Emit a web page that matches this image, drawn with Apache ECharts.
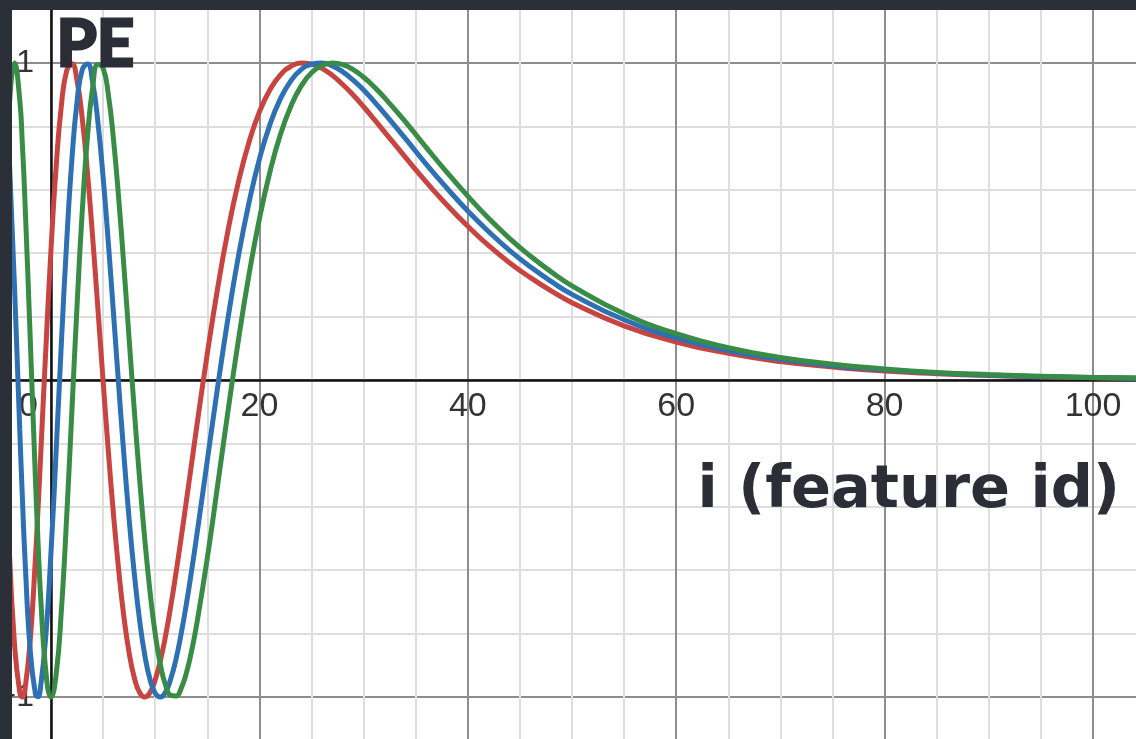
<!DOCTYPE html>
<html>
<head>
<meta charset="utf-8">
<title>PE vs feature id</title>
<script src="https://cdn.jsdelivr.net/npm/echarts@6/dist/echarts.min.js"></script>
<style>
  html, body { margin: 0; padding: 0; width: 1136px; height: 739px; background: #2b2f37; overflow: hidden; }
  #chart { position: absolute; left: 12px; top: 10px; width: 1124px; height: 729px; background: #ffffff; }
</style>
</head>
<body>
<div id="chart"></div>
<script>
// feature index i (shared by all three curves)
const iValues = [
    -4, -3.5, -3, -2.75, -2.5, -2, -1.5, -1.25, -1, -0.5, 0, 0.5, 1, 1.5, 2, 2.5, 3, 3.5, 4, 4.5, 5, 5.5, 6,
    6.5, 7, 7.5, 8, 8.5, 9, 9.5, 10, 10.5, 11, 11.5, 12, 12.5, 13, 13.5, 14,
    15, 16, 17, 18, 19, 20, 21, 22, 23, 24, 25, 26, 27, 28, 29, 30, 31, 32,
    34, 36, 38, 40, 42, 44, 46, 48, 50,
    55, 60, 65, 70, 75, 80, 85, 90, 95, 100, 105
];

// PE value
const peRed = [
    -0.535, -0.835, -0.985, -1.000, -0.976, -0.825, -0.565, -0.410, -0.244, 0.095, 0.412, 0.676, 0.867, 0.975, 0.998, 0.944, 0.825, 0.654, 0.449, 0.225, -0.003, -0.223, -0.425,
    -0.601, -0.748, -0.861, -0.940, -0.986, -1.000, -0.986, -0.946, -0.885, -0.806, -0.712, -0.608, -0.496, -0.380, -0.262, -0.144,
    0.083, 0.291, 0.474, 0.627, 0.750, 0.846, 0.915, 0.962, 0.989, 1.000, 0.997, 0.983, 0.961, 0.932, 0.899, 0.862, 0.823, 0.783,
    0.703, 0.625, 0.552, 0.485, 0.424, 0.370, 0.323, 0.281, 0.244,
    0.171, 0.120, 0.084, 0.058, 0.041, 0.028, 0.020, 0.014, 0.010, 0.007, 0.005
];
const peBlue = [
    0.696, 0.293, -0.156, -0.369, -0.561, -0.851, -0.990, -0.999, -0.969, -0.808, -0.544, -0.220, 0.119, 0.433, 0.693, 0.878, 0.979, 0.997, 0.938, 0.814, 0.640, 0.434, 0.209,
    -0.019, -0.238, -0.439, -0.613, -0.757, -0.868, -0.944, -0.988, -1.000, -0.984, -0.942, -0.880, -0.799, -0.705, -0.600, -0.488,
    -0.254, -0.021, 0.198, 0.393, 0.559, 0.697, 0.805, 0.886, 0.943, 0.979, 0.996, 1.000, 0.991, 0.972, 0.946, 0.915, 0.879, 0.841,
    0.762, 0.681, 0.605, 0.533, 0.468, 0.409, 0.357, 0.311, 0.270,
    0.190, 0.133, 0.093, 0.065, 0.045, 0.032, 0.022, 0.015, 0.011, 0.008, 0.005
];
const peGreen = [
    0.862, 1.000, 0.884, 0.745, 0.566, 0.136, -0.308, -0.507, -0.679, -0.918, -1.000, -0.927, -0.725, -0.435, -0.101, 0.234, 0.532, 0.767, 0.923, 0.995, 0.984, 0.901, 0.758,
    0.571, 0.356, 0.129, -0.098, -0.311, -0.503, -0.667, -0.800, -0.898, -0.963, -0.995, -0.997, -0.972, -0.923, -0.853, -0.768,
    -0.562, -0.330, -0.095, 0.129, 0.332, 0.508, 0.655, 0.773, 0.862, 0.927, 0.969, 0.992, 1.000, 0.995, 0.979, 0.955, 0.925, 0.891,
    0.815, 0.734, 0.655, 0.580, 0.510, 0.447, 0.391, 0.341, 0.297,
    0.209, 0.146, 0.102, 0.071, 0.050, 0.035, 0.024, 0.017, 0.012, 0.008, 0.006
];

// axis ranges (the visible window is a crop of a larger plot area)
const xRange = [-20, 120];
const yRange = [-2, 2];

const curves = [
    { name: 'red', color: '#c74440', values: peRed },
    { name: 'blue', color: '#2d70b3', values: peBlue },
    { name: 'green', color: '#388c46', values: peGreen }
];

// layout: origin position inside the white panel and pixels per unit
const W = 1124, H = 729;
const originX = 39, originY = 370;
const pxPerX = 10.42, pxPerY = 317;

const textDark = '#2b2e36';
const labelColor = '#333333';
const majorGrid = '#8e8e8e';
const minorGrid = '#dedede';
const labelFont = 'Liberation Sans, Arial, sans-serif';

function buildOption() {
    return {
        animation: false,
        backgroundColor: '#ffffff',
        // big hand-lettered style labels
        graphic: [
            {
                type: 'text',
                left: 43,
                top: 1,
                z: 100,
                // stroke in the fill colour to thicken the glyphs
                style: { text: 'PE', font: 'bold 65px Lato', fill: textDark, stroke: textDark, lineWidth: 3 }
            },
            {
                type: 'text',
                right: 16,
                top: 452,
                z: 100,
                style: { text: 'i (feature id)', font: 'bold 59px "DejaVu Sans"', fill: textDark }
            }
        ],
        grid: {
            left: originX + xRange[0] * pxPerX,
            right: W - (originX + xRange[1] * pxPerX),
            top: originY - yRange[1] * pxPerY,
            bottom: H - (originY - yRange[0] * pxPerY),
            containLabel: false,
            outerBoundsMode: 'none'
        },
        xAxis: {
            type: 'value',
            min: xRange[0],
            max: xRange[1],
            interval: 20,
            // move the whole axis (line + labels) up to y = 0
            offset: yRange[0] * pxPerY,
            axisLine: { onZero: false, lineStyle: { color: '#111111', width: 2.5 } },
            axisTick: { show: false },
            axisLabel: {
                margin: 10,
                fontSize: 34,
                fontFamily: labelFont,
                color: labelColor,
                formatter: (v) => (v === 0 ? '{o|0}' : (v > 0 ? String(v) : '')),
                rich: { o: { fontSize: 34, fontFamily: labelFont, color: labelColor, padding: [0, 45, 0, 0] } }
            },
            splitLine: { show: true, lineStyle: { color: majorGrid, width: 2 } },
            minorTick: { show: false, splitNumber: 4 },
            minorSplitLine: { show: true, lineStyle: { color: minorGrid, width: 2 } }
        },
        yAxis: {
            type: 'value',
            min: yRange[0],
            max: yRange[1],
            interval: 1,
            // move the whole axis right to x = 0
            offset: xRange[0] * pxPerX,
            axisLine: { onZero: false, lineStyle: { color: '#111111', width: 2.5 } },
            axisTick: { show: false },
            axisLabel: {
                margin: 17,
                fontSize: 32,
                fontFamily: labelFont,
                color: labelColor,
                formatter: (v) => (v === 1 ? '1' : (v === -1 ? '\u22121' : ''))
            },
            splitLine: { show: true, lineStyle: { color: majorGrid, width: 2 } },
            minorTick: { show: false, splitNumber: 5 },
            minorSplitLine: { show: true, lineStyle: { color: minorGrid, width: 2 } }
        },
        series: curves.map(c => ({
            name: c.name,
            type: 'line',
            smooth: true,
            showSymbol: false,
            silent: true,
            lineStyle: { color: c.color, width: 5 },
            data: iValues.map((x, k) => [x, c.values[k]])
        }))
    };
}

function render() {
    const chart = echarts.init(document.getElementById('chart'), null, { renderer: 'canvas' });
    chart.setOption(buildOption());
}

// make sure the bold faces are ready before the canvas text is drawn
const fontLoads = [
    document.fonts.load('bold 65px Lato'),
    document.fonts.load('bold 59px "DejaVu Sans"'),
    document.fonts.load('34px "Liberation Sans"')
];
Promise.all(fontLoads).then(render, render);
</script>
</body>
</html>
